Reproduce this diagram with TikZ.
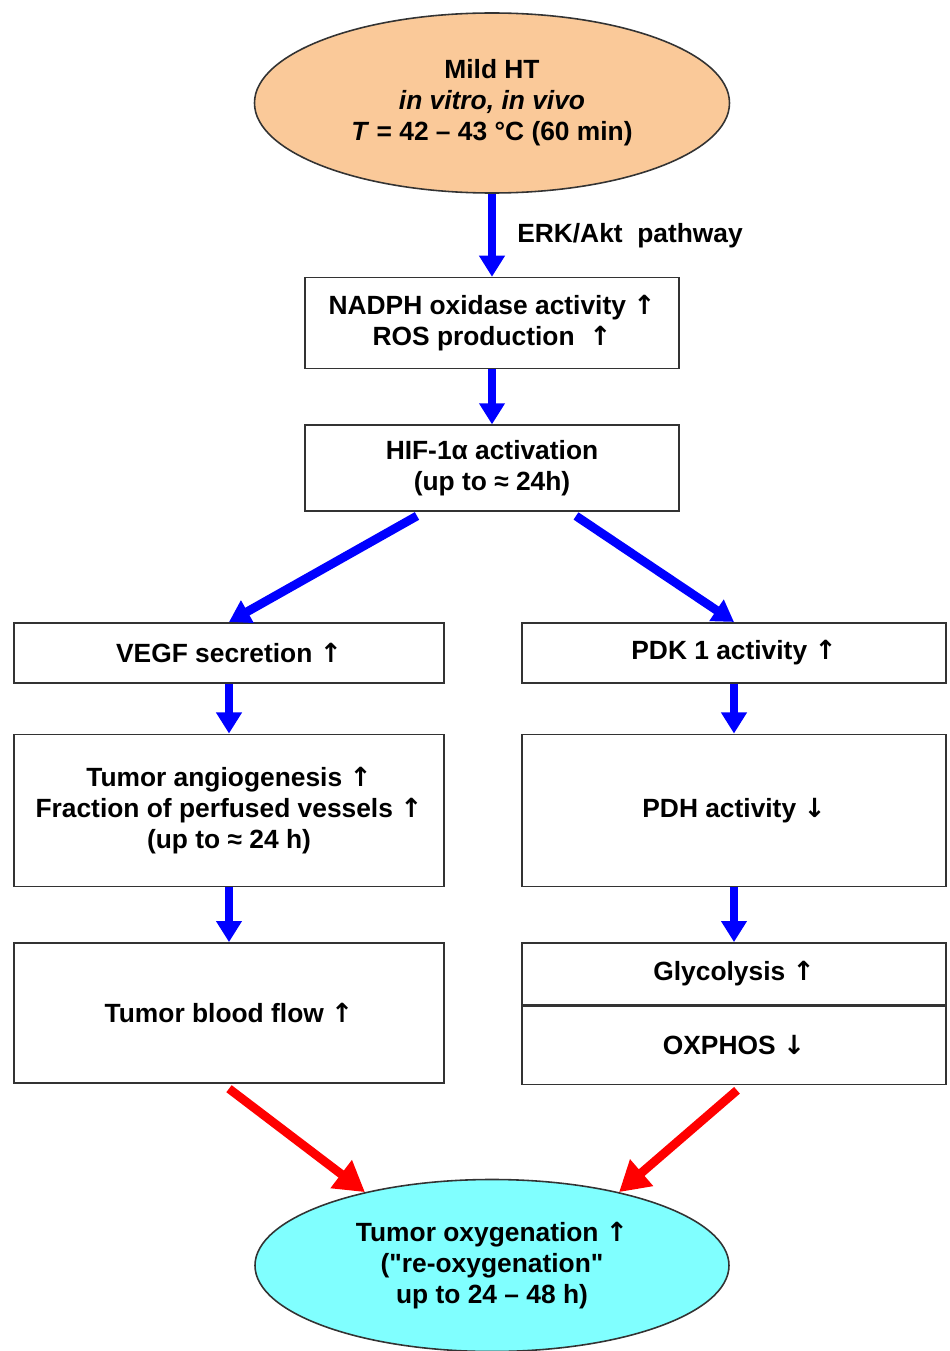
\documentclass[tikz,border=0pt]{standalone}
\usepackage{fontspec}
\setmainfont{Liberation Sans}
\newfontfamily\arrowfont{DejaVu Sans}
\newfontfamily\quotefont{Liberation Sans}
\usepackage{xcolor}
\usepackage{tikz}
\usetikzlibrary{shapes,arrows,arrows.meta,positioning,calc}
\definecolor{htorange}{RGB}{250,201,153}
\definecolor{oxycyan}{RGB}{128,255,255}
\newcommand{\upar}{{\arrowfont ↑}}
\newcommand{\downar}{{\arrowfont ↓}}
\newcommand{\dq}{{\quotefont"}}

\begin{document}
\begin{tikzpicture}[
    node distance=1cm and 0.5cm,
    box/.style={rectangle, draw=black!80, line width=0.9pt, minimum width=8.6cm, font=\fontsize{15}{17.6}\selectfont\bfseries, align=center},
    oval/.style={ellipse, draw=black!80, line width=0.9pt, minimum width=9.5cm, minimum height=3.6cm, font=\fontsize{15}{17.6}\selectfont\bfseries, align=center},
    arrow/.style={-{Triangle[length=12pt,width=14pt]}, line width=5pt, blue},
    redarrow/.style={-{Triangle[length=17pt,width=19pt]}, line width=5pt, red}
]
  \useasboundingbox (-9.84,2.06) rectangle (9.14,-24.96);

  % Main column
  \node[oval, fill=htorange] (ht) at (0,0) {Mild HT\\ \textit{in vitro, in vivo}\\ \textit{T} = 42 – 43 °C (60 min)};
  \node[box, minimum width=7.48cm, minimum height=1.82cm, below=1.66cm of ht] (nadph) {NADPH oxidase activity \upar\\ ROS production\ \ \upar};
  \node[box, minimum width=7.48cm, minimum height=1.72cm, below=1.1cm of nadph] (hif) {HIF-1α activation\\ (up to ≈ 24h)};

  % Left branch
  \node[box, minimum height=1.2cm, below=2.2cm of hif.south, xshift=-5.26cm] (vegf) {VEGF secretion \upar};
  \node[box, minimum height=3.04cm, below=of vegf] (angio) {Tumor angiogenesis \upar\\ Fraction of perfused vessels \upar\\ (up to ≈ 24 h)};
  \node[box, minimum height=2.8cm, below=1.1cm of angio] (flow) {Tumor blood flow \upar};

  % Right branch
  \node[box, minimum width=8.48cm, minimum height=1.2cm, below=2.2cm of hif.south, xshift=4.84cm] (pdk) {PDK 1 activity \upar};
  \node[box, minimum width=8.48cm, minimum height=3.04cm, below=of pdk] (pdh) {PDH activity \downar};
  \node[box, minimum width=8.48cm, minimum height=1.24cm, below=1.1cm of pdh] (glyco) {Glycolysis \upar};
  \node[box, minimum width=8.48cm, minimum height=1.56cm, below=0cm of glyco] (oxphos) {OXPHOS \downar};

  % Result
  \node[oval, fill=oxycyan, minimum width=9.48cm, minimum height=3.44cm, anchor=north] (oxy) at ($(flow.south -| hif.south)+(0,-1.9)$) {Tumor oxygenation \upar\\ (\dq re-oxygenation\dq\\ up to 24 – 48 h)};

  % Arrows
  \draw[arrow] (ht) -- node[midway, right=0.3cm, text=black, font=\fontsize{15}{17.6}\selectfont\bfseries] (erk) {ERK/Akt\ \ pathway} (nadph);
  \draw[arrow] (nadph) -- (hif);
  \draw[arrow] ($(hif.south)+(-1.5,-0.08)$) -- (vegf.north);
  \draw[arrow] ($(hif.south)+(1.68,-0.08)$) -- (pdk.north);
  \draw[arrow] (vegf) -- (angio);
  \draw[arrow] (angio) -- (flow);
  \draw[arrow] (pdk) -- (pdh);
  \draw[arrow] (pdh) -- (glyco);
  \draw[redarrow] ($(flow.south)+(0,-0.1)$) -- (oxy.150);
  \draw[redarrow] ($(oxphos.south)+(0.06,-0.1)$) -- (oxy.30);
\end{tikzpicture}
\end{document}
